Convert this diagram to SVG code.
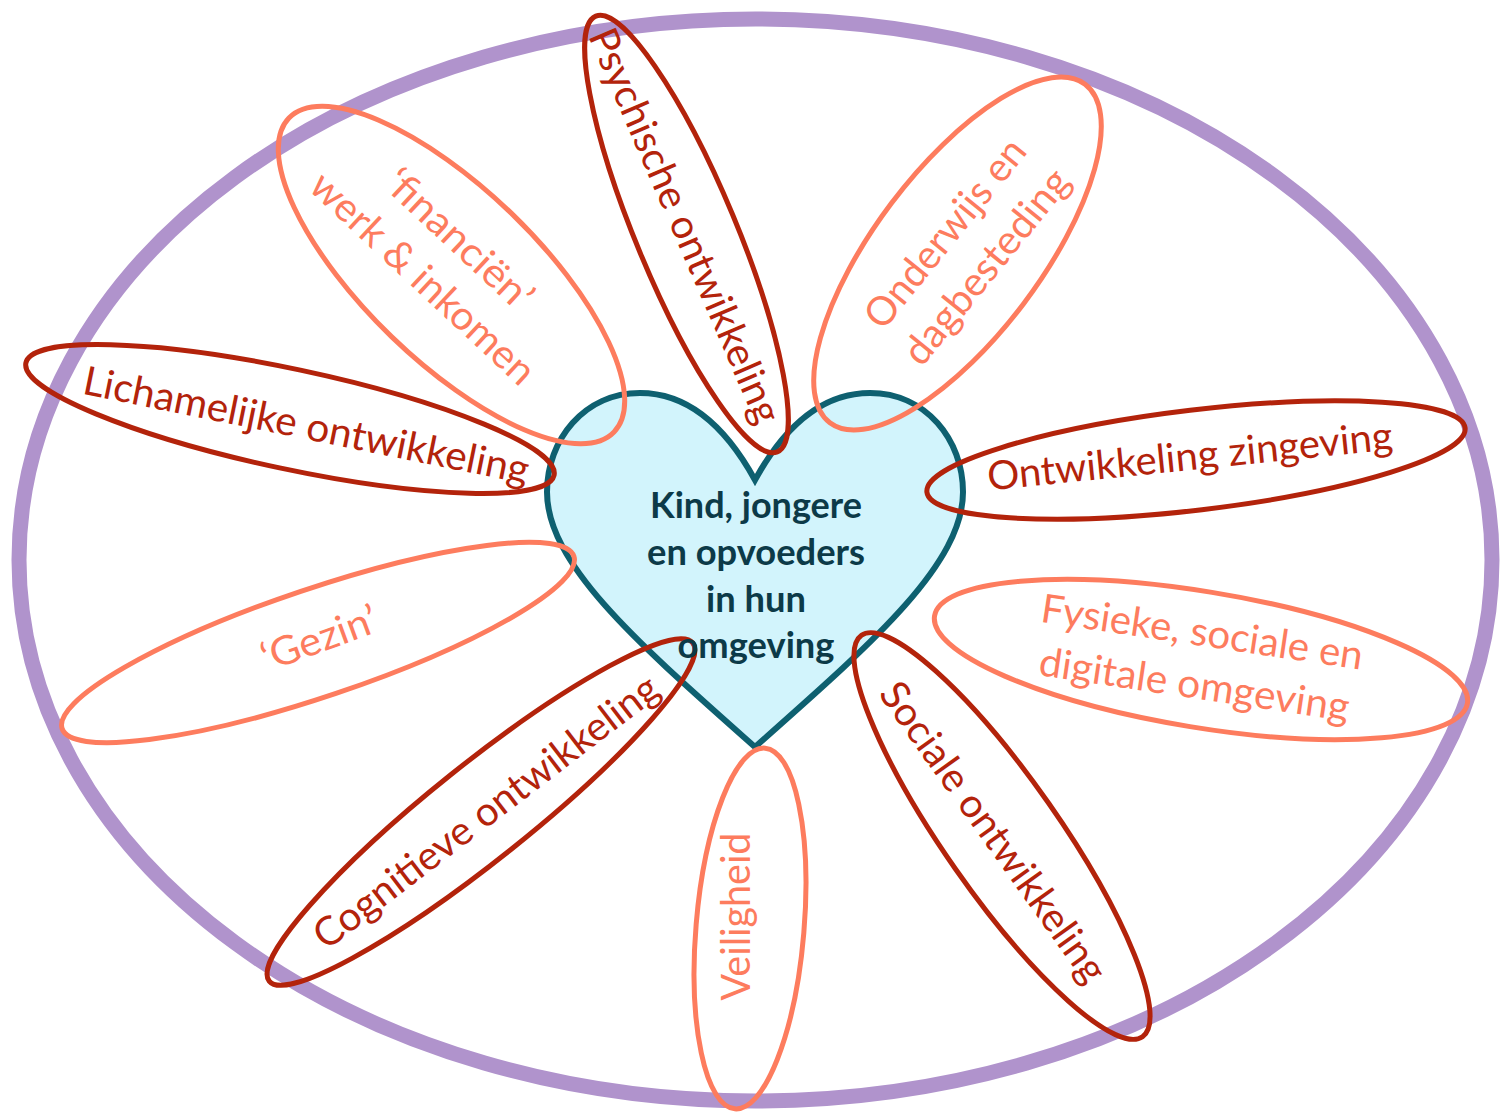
<svg xmlns="http://www.w3.org/2000/svg" width="1505" height="1114" viewBox="0 0 1505 1114">
<style>
.petal{fill:none;stroke-width:5}
.dark{stroke:#b3230b}
.light{stroke:#fd7c5e}
.lbl{font-family:Lato,"Liberation Sans",sans-serif;font-size:40px;text-anchor:middle}
.tdark{fill:#b3230b}
.tlight{fill:#fd7c5e}
.core{font-family:Lato,"Liberation Sans",sans-serif;font-size:36px;font-weight:bold;fill:#0c3a48;text-anchor:middle}
</style>
<rect width="1505" height="1114" fill="#ffffff"/>
<g id="omgeving-rand">
<ellipse cx="755.5" cy="560" rx="736.5" ry="541" fill="none" stroke="#b093cc" stroke-width="15"/>
</g>
<g id="hart">
<path d="M755 480 C722 420 684 393 640 393 C584 393 547 440 547 492 C547 565 640 645 755 747 C870 645 963 565 963 492 C963 440 926 393 870 393 C826 393 788 420 755 480 Z" fill="#d2f4fc" stroke="#0e6070" stroke-width="6" stroke-linejoin="miter"/>
</g>
<g id="psychische">
<ellipse class="petal dark" cx="0" cy="0" rx="236" ry="50" transform="translate(686.5,234) rotate(67.4)"/>
<text class="lbl tdark" x="0" y="12" textLength="426" lengthAdjust="spacingAndGlyphs" transform="translate(683.5,226.5) rotate(66.6)">Psychische ontwikkeling</text>
</g>
<g id="financien">
<ellipse class="petal light" cx="0" cy="0" rx="226" ry="86" transform="translate(451.5,275) rotate(44)"/>
<g transform="translate(440,260) rotate(43)">
<text class="lbl tlight" x="0" y="-14.5" textLength="186" lengthAdjust="spacingAndGlyphs">‘financiën’</text>
<text class="lbl tlight" x="0" y="38.5" textLength="291" lengthAdjust="spacingAndGlyphs">werk &amp; inkomen</text>
</g>
</g>
<g id="onderwijs">
<ellipse class="petal light" cx="0" cy="0" rx="212" ry="83" transform="translate(957.5,253.5) rotate(-53)"/>
<g transform="translate(967,251) rotate(-51)">
<text class="lbl tlight" x="0" y="-14.5" textLength="231" lengthAdjust="spacingAndGlyphs">Onderwijs en</text>
<text class="lbl tlight" x="0" y="38.5" textLength="239" lengthAdjust="spacingAndGlyphs">dagbesteding</text>
</g>
</g>
<g id="lichamelijke">
<ellipse class="petal dark" cx="0" cy="0" rx="270" ry="50" transform="translate(290,419) rotate(12)"/>
<text class="lbl tdark" x="0" y="12" textLength="454" lengthAdjust="spacingAndGlyphs" transform="translate(306,427) rotate(11.5)">Lichamelijke ontwikkeling</text>
</g>
<g id="zingeving">
<ellipse class="petal dark" cx="0" cy="0" rx="271" ry="50" transform="translate(1196,460) rotate(-6.8)"/>
<text class="lbl tdark" x="0" y="12" textLength="407" lengthAdjust="spacingAndGlyphs" transform="translate(1190,458) rotate(-5.8)">Ontwikkeling zingeving</text>
</g>
<g id="gezin">
<ellipse class="petal light" cx="0" cy="0" rx="270" ry="54" transform="translate(318,642.5) rotate(-18.6)"/>
<text class="lbl tlight" x="0" y="12" textLength="121" lengthAdjust="spacingAndGlyphs" transform="translate(320,640) rotate(-20)">‘Gezin’</text>
</g>
<g id="fysieke">
<ellipse class="petal light" cx="0" cy="0" rx="270" ry="68" transform="translate(1201,659.5) rotate(9.3)"/>
<g transform="translate(1198,660) rotate(8.5)">
<text class="lbl tlight" x="0" y="-14.5" textLength="325" lengthAdjust="spacingAndGlyphs">Fysieke, sociale en</text>
<text class="lbl tlight" x="0" y="38.5" textLength="313" lengthAdjust="spacingAndGlyphs">digitale omgeving</text>
</g>
</g>
<g id="cognitieve">
<ellipse class="petal dark" cx="0" cy="0" rx="271" ry="48" transform="translate(481,812) rotate(-38.6)"/>
<text class="lbl tdark" x="0" y="12" textLength="423" lengthAdjust="spacingAndGlyphs" transform="translate(487,813) rotate(-37.4)">Cognitieve ontwikkeling</text>
</g>
<g id="veiligheid">
<ellipse class="petal light" cx="0" cy="0" rx="181" ry="54" transform="translate(750,928.5) rotate(94.8)"/>
<text class="lbl tlight" x="0" y="0" textLength="168" lengthAdjust="spacingAndGlyphs" transform="translate(750,916.5) rotate(-90)">Veiligheid</text>
</g>
<g id="sociale">
<ellipse class="petal dark" cx="0" cy="0" rx="245" ry="57" transform="translate(1002,836) rotate(55)"/>
<text class="lbl tdark" x="0" y="12" textLength="359" lengthAdjust="spacingAndGlyphs" transform="translate(992,833) rotate(54.4)">Sociale ontwikkeling</text>
</g>
<g id="kern-tekst">
<text class="core" x="756" y="518" textLength="212" lengthAdjust="spacingAndGlyphs">Kind, jongere</text>
<text class="core" x="756" y="565" textLength="218" lengthAdjust="spacingAndGlyphs">en opvoeders</text>
<text class="core" x="756" y="612" textLength="100" lengthAdjust="spacingAndGlyphs">in hun</text>
<text class="core" x="756" y="658" textLength="157" lengthAdjust="spacingAndGlyphs">omgeving</text>
</g>
</svg>
